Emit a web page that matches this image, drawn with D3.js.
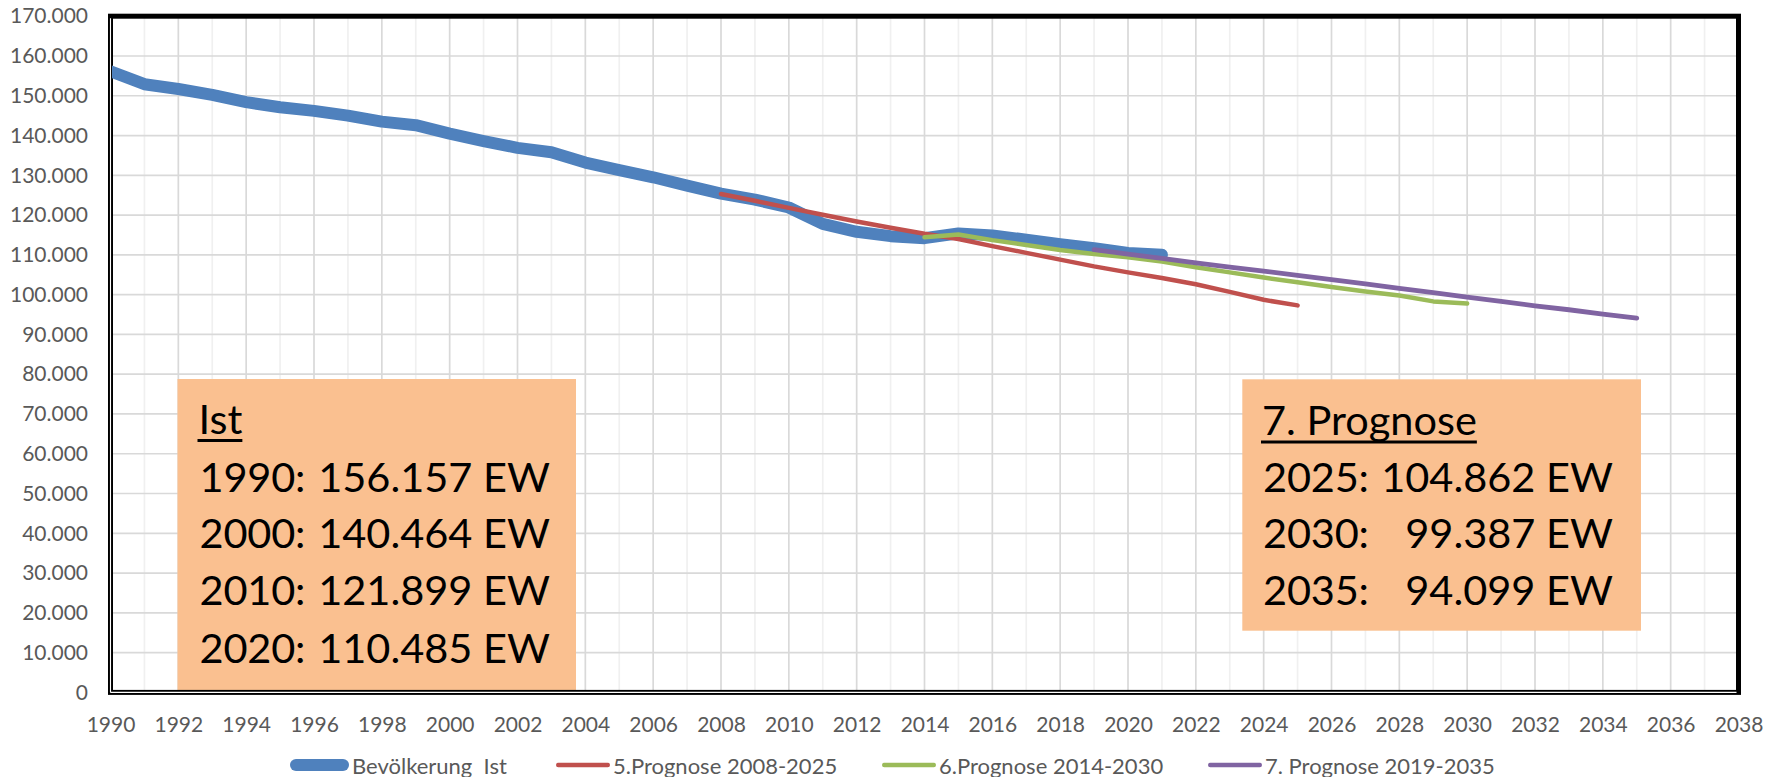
<!DOCTYPE html>
<html><head><meta charset="utf-8">
<script src="https://cdn.jsdelivr.net/npm/d3@7"></script>
<style>
html,body{margin:0;padding:0;background:#fff;}
svg{display:block;font-family:Lato,"Open Sans",sans-serif;}
</style></head><body>
<svg id="chart" width="1783" height="777"></svg>
<script>
// ---- data ----
const istYears = [1990,1991,1992,1993,1994,1995,1996,1997,1998,1999,2000,2001,2002,2003,2004,2005,2006,2007,2008,2009,2010,2011,2012,2013,2014,2015,2016,2017,2018,2019,2020,2021];
const istValues = [156157,152900,151700,150200,148400,147100,146200,145000,143500,142600,140464,138600,136900,135800,133200,131300,129500,127400,125400,123900,121899,117800,115800,114700,114200,115400,114900,113800,112700,111700,110485,110000];
const prog5Years = [2008,2009,2010,2011,2012,2013,2014,2015,2016,2017,2018,2019,2020,2021,2022,2023,2024,2025];
const prog5Values = [125300,123600,121800,120100,118400,116800,115300,114000,112200,110500,108800,107100,105600,104200,102600,100700,98700,97300];
const prog6Years = [2014,2015,2016,2017,2018,2019,2020,2021,2022,2023,2024,2025,2026,2027,2028,2029,2030];
const prog6Values = [114400,115100,113700,112500,111200,110200,109400,108300,106900,105600,104300,103100,101900,100800,99800,98300,97750];
const prog7Years = [2019,2020,2021,2022,2023,2024,2025,2026,2027,2028,2029,2030,2031,2032,2033,2034,2035];
const prog7Values = [111300,110200,109100,108000,106900,105900,104862,103800,102700,101600,100500,99387,98300,97200,96200,95100,94099];
const seriesNames = ["Bevölkerung  Ist","5.Prognose 2008-2025","6.Prognose 2014-2030","7. Prognose 2019-2035"];
const xTicks = [1990,1992,1994,1996,1998,2000,2002,2004,2006,2008,2010,2012,2014,2016,2018,2020,2022,2024,2026,2028,2030,2032,2034,2036,2038];
const yTicks = [0,10000,20000,30000,40000,50000,60000,70000,80000,90000,100000,110000,120000,130000,140000,150000,160000,170000];
const istBoxTitle = "Ist";
const istBoxLabels = ["1990:","2000:","2010:","2020:"];
const istBoxValues = ["156.157 EW","140.464 EW","121.899 EW","110.485 EW"];
const progBoxTitle = "7. Prognose";
const progBoxLabels = ["2025:","2030:","2035:"];
const progBoxValues = ["104.862 EW","99.387 EW","94.099 EW"];

// ---- styles ----
const colors = ["#4F81BD","#C0504D","#9BBB59","#8064A2"];
const widths = [12,4.5,4.5,4.8];

const svg = d3.select("#chart");
const L = 110.5, R = 1738.5, T = 16.2, B = 692.4;
const x = d3.scaleLinear().domain([1990,2038]).range([L,R]);
const y = d3.scaleLinear().domain([0,170000]).range([B,T]);
const de = d3.formatLocale({decimal:",",thousands:".",grouping:[3],currency:["","€"]});
const fmt = de.format(",");

// gridlines
const grid = svg.append("g");
grid.selectAll("line.v").data(d3.range(1991,2038)).join("line")
  .attr("x1",d=>x(d)).attr("x2",d=>x(d)).attr("y1",T).attr("y2",B)
  .attr("stroke",d=>d%2===0?"#D9D9D9":"#F0F0F0").attr("stroke-width",1.7);
grid.selectAll("line.h").data(yTicks.filter(v=>v>0&&v<170000)).join("line")
  .attr("x1",L).attr("x2",R).attr("y1",d=>y(d)).attr("y2",d=>y(d))
  .attr("stroke","#D9D9D9").attr("stroke-width",1.7);

// annotation boxes
const FS = 41.5;
function box(x0,y0,w,h,title,labels,values,tx,rx,titleBase,bases){
  const g = svg.append("g");
  g.append("rect").attr("x",x0).attr("y",y0).attr("width",w).attr("height",h).attr("fill","#FAC090");
  const t = g.append("text").attr("x",tx).attr("y",titleBase).attr("font-size",FS).attr("fill","#000").text(title);
  const tw = t.node().getComputedTextLength();
  g.append("line").attr("x1",tx-1).attr("x2",tx+tw).attr("y1",titleBase+7).attr("y2",titleBase+7).attr("stroke","#000").attr("stroke-width",2.8);
  labels.forEach((lab,i)=>{
    g.append("text").attr("x",tx+1).attr("y",bases[i]).attr("font-size",FS).attr("fill","#000")
      .attr("textLength",106).attr("lengthAdjust","spacing").text(lab);
    g.append("text").attr("x",rx).attr("y",bases[i]).attr("font-size",FS).attr("fill","#000").attr("text-anchor","end").text(values[i]);
  });
}
box(177.5,379,398.5,312,istBoxTitle,istBoxLabels,istBoxValues,198.5,550,433.5,[491.7,548.3,605,662.5]);
box(1242.3,379.3,398.7,251.4,progBoxTitle,progBoxLabels,progBoxValues,1262,1613,435,[491.7,548.3,605]);

// frame
svg.append("rect").attr("x",L).attr("y",T).attr("width",R-L).attr("height",B-T)
  .attr("fill","none").attr("stroke","#000").attr("stroke-width",5);
svg.append("line").attr("x1",L).attr("x2",L).attr("y1",T+2).attr("y2",B).attr("stroke","#fff").attr("stroke-width",1.1);
svg.append("line").attr("x1",L).attr("x2",R-2).attr("y1",B).attr("y2",B).attr("stroke","#fff").attr("stroke-width",1.1);

// series
svg.append("clipPath").attr("id","pc").append("rect").attr("x",L+1.5).attr("y",T).attr("width",R-L).attr("height",B-T);
const line = d3.line().x(d=>x(d[0])).y(d=>y(d[1]));
const series = [
  d3.zip(istYears,istValues),
  d3.zip(prog5Years,prog5Values),
  d3.zip(prog6Years,prog6Values),
  d3.zip(prog7Years,prog7Values)
];
const sg = svg.append("g").attr("clip-path","url(#pc)");
series.forEach((s,i)=>{
  sg.append("path").attr("d",line(s)).attr("fill","none").attr("stroke",colors[i])
    .attr("stroke-width",widths[i]).attr("stroke-linejoin","round").attr("stroke-linecap","round");
});

// axes
const yAxis = svg.append("g").attr("transform",`translate(${L},0)`)
  .call(d3.axisLeft(y).tickValues(yTicks).tickFormat(fmt).tickSize(0).tickPadding(22.5));
const xAxis = svg.append("g").attr("transform",`translate(0,${B})`)
  .call(d3.axisBottom(x).tickValues(xTicks).tickFormat(d=>String(d)).tickSize(0).tickPadding(24.6));
[yAxis,xAxis].forEach(a=>{
  a.select(".domain").remove();
  a.selectAll("text").attr("font-family","Lato,'Open Sans',sans-serif").attr("font-size",21).attr("fill","#595959");
});

// legend
const legX = [290,556,882,1208];
const lg = svg.append("g");
seriesNames.forEach((n,i)=>{
  const sw = i===0?12:4.5;
  const len = i===0?59:54;
  lg.append("line").attr("x1",legX[i]+sw/2).attr("x2",legX[i]+len-sw/2).attr("y1",765).attr("y2",765)
    .attr("stroke",colors[i]).attr("stroke-width",sw).attr("stroke-linecap","round");
  lg.append("text").attr("x",legX[i]+len+3).attr("y",773.5).attr("font-size",22).attr("fill","#595959")
    .style("white-space","pre").text(n);
});
</script>
</body></html>
